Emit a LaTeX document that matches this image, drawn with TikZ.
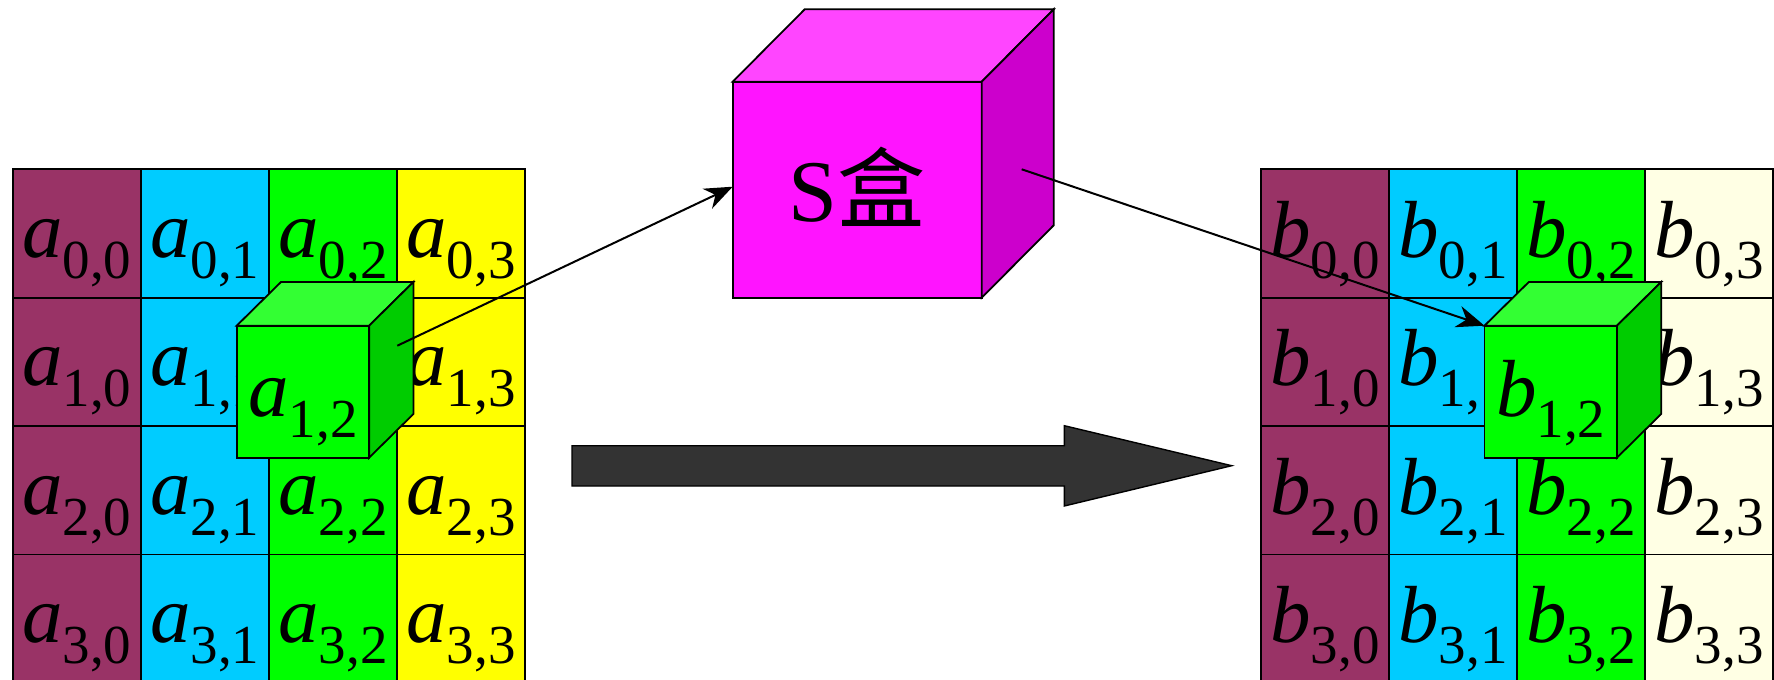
\documentclass[tikz,border=0pt]{standalone}
\usepackage{fontspec}
\setmainfont{Liberation Serif}
\newfontfamily\tnr{Liberation Serif}
\newfontfamily\cjk{Noto Sans CJK SC}
\usetikzlibrary{arrows.meta,calc}

\definecolor{cmaroon}{HTML}{993366}
\definecolor{ccyan}{HTML}{00CCFF}
\definecolor{cgreen}{HTML}{00FF00}
\definecolor{cyellow}{HTML}{FFFF00}
\definecolor{ccream}{HTML}{FFFFE4}
\definecolor{gtop}{HTML}{33FF33}
\definecolor{gside}{HTML}{00CC00}
\definecolor{mfront}{HTML}{FF14FF}
\definecolor{mtop}{HTML}{FF45FF}
\definecolor{mside}{HTML}{CC00CC}
\definecolor{darrow}{HTML}{333333}

\tikzset{
  cell/.style={draw=black, line width=0.9pt, rectangle, minimum width=64pt, minimum height=64.2pt, inner sep=0pt, outer sep=0pt, anchor=north west},
  lab/.style={anchor=base, inner sep=0pt, outer sep=0pt, font=\tnr},
  face/.style={draw=black, line width=0.9pt, line join=miter},
  front/.style={draw=black, line width=0.9pt, rectangle, inner sep=0pt, outer sep=0pt, anchor=north west},
  conn/.style={draw=black, line width=1pt, -{Stealth[length=14pt,width=11pt,inset=4.5pt]}},
  bigarrow/.style={fill=darrow, draw=black, line width=0.7pt, line join=miter},
}

\newcommand{\celltxt}[3]{{\fontsize{40.5}{48}\selectfont\itshape #1}\raisebox{-10.5pt}{\fontsize{27.5}{32}\selectfont #2,#3}}

\begin{document}
\begin{tikzpicture}[x=0.5pt,y=-0.5pt]
\useasboundingbox (0,0) rectangle (1774,680);
\fill[white] (0,0) rectangle (1774,680);

% left grid
\foreach \r in {0,...,3} {
  \foreach \c/\col in {0/cmaroon,1/ccyan,2/cgreen,3/cyellow} {
    \node[cell, fill=\col] (a\r\c) at ({12.7+128.1*\c},{169.3+128.4*\r}) {};
    \node[lab] (la\r\c) at ($(a\r\c.center)+(0,24)$) {\celltxt{a}{\r}{\c}};
  }
}
% right grid
\foreach \r in {0,...,3} {
  \foreach \c/\col in {0/cmaroon,1/ccyan,2/cgreen,3/ccream} {
    \node[cell, fill=\col] (b\r\c) at ({1261+128*\c},{169.3+128.4*\r}) {};
    \node[lab] (lb\r\c) at ($(b\r\c.center)+(0,24)$) {\celltxt{b}{\r}{\c}};
  }
}

% big arrow
\filldraw[bigarrow] (572,445.7) -- (1064.3,445.7) -- (1064.3,425.7) -- (1231.7,465.7)
  -- (1064.3,506) -- (1064.3,486) -- (572,486) -- cycle;

% left cube
\node[front, fill=cgreen, minimum width=66.2pt, minimum height=66pt] (ca) at (236.7,325.7) {};
\filldraw[face, fill=gtop] (ca.north west) -- ++(44.3,-43.7) -- ($(ca.north east)+(44.3,-43.7)$) -- (ca.north east) -- cycle;
\filldraw[face, fill=gside] (ca.north east) -- ++(44.3,-43.7) -- ($(ca.south east)+(44.3,-43.7)$) -- (ca.south east) -- cycle;
\node[lab] (lca) at ($(ca.center)+(0,25)$) {\celltxt{a}{1}{2}};

% right cube
\node[front, fill=cgreen, minimum width=66.2pt, minimum height=66pt] (cb) at (1484.5,325.7) {};
\filldraw[face, fill=gtop] (cb.north west) -- ++(44.3,-43.7) -- ($(cb.north east)+(44.3,-43.7)$) -- (cb.north east) -- cycle;
\filldraw[face, fill=gside] (cb.north east) -- ++(44.3,-43.7) -- ($(cb.south east)+(44.3,-43.7)$) -- (cb.south east) -- cycle;
\node[lab] (lcb) at ($(cb.center)+(0,25)$) {\celltxt{b}{1}{2}};

% S box
\node[front, fill=mfront, minimum width=124.5pt, minimum height=108pt] (sbox) at (732.7,81.7) {};
\filldraw[face, fill=mtop] (sbox.north west) -- ++(72,-72.4) -- ($(sbox.north east)+(72,-72.4)$) -- (sbox.north east) -- cycle;
\filldraw[face, fill=mside] (sbox.north east) -- ++(72,-72.4) -- ($(sbox.south east)+(72,-72.4)$) -- (sbox.south east) -- cycle;
\node[lab] (lsbox) at ($(sbox.center)+(0,32)$) {\fontsize{44}{52}\selectfont S{\cjk 盒}};

% connectors
\coordinate (ca-out) at (397.3,345.7);
\coordinate (s-out) at (1021.7,169.3);
\draw[conn] (ca-out) -- ([yshift=1.5pt]sbox.west);
\draw[conn] (s-out) -- (cb.north west);
\end{tikzpicture}
\end{document}
